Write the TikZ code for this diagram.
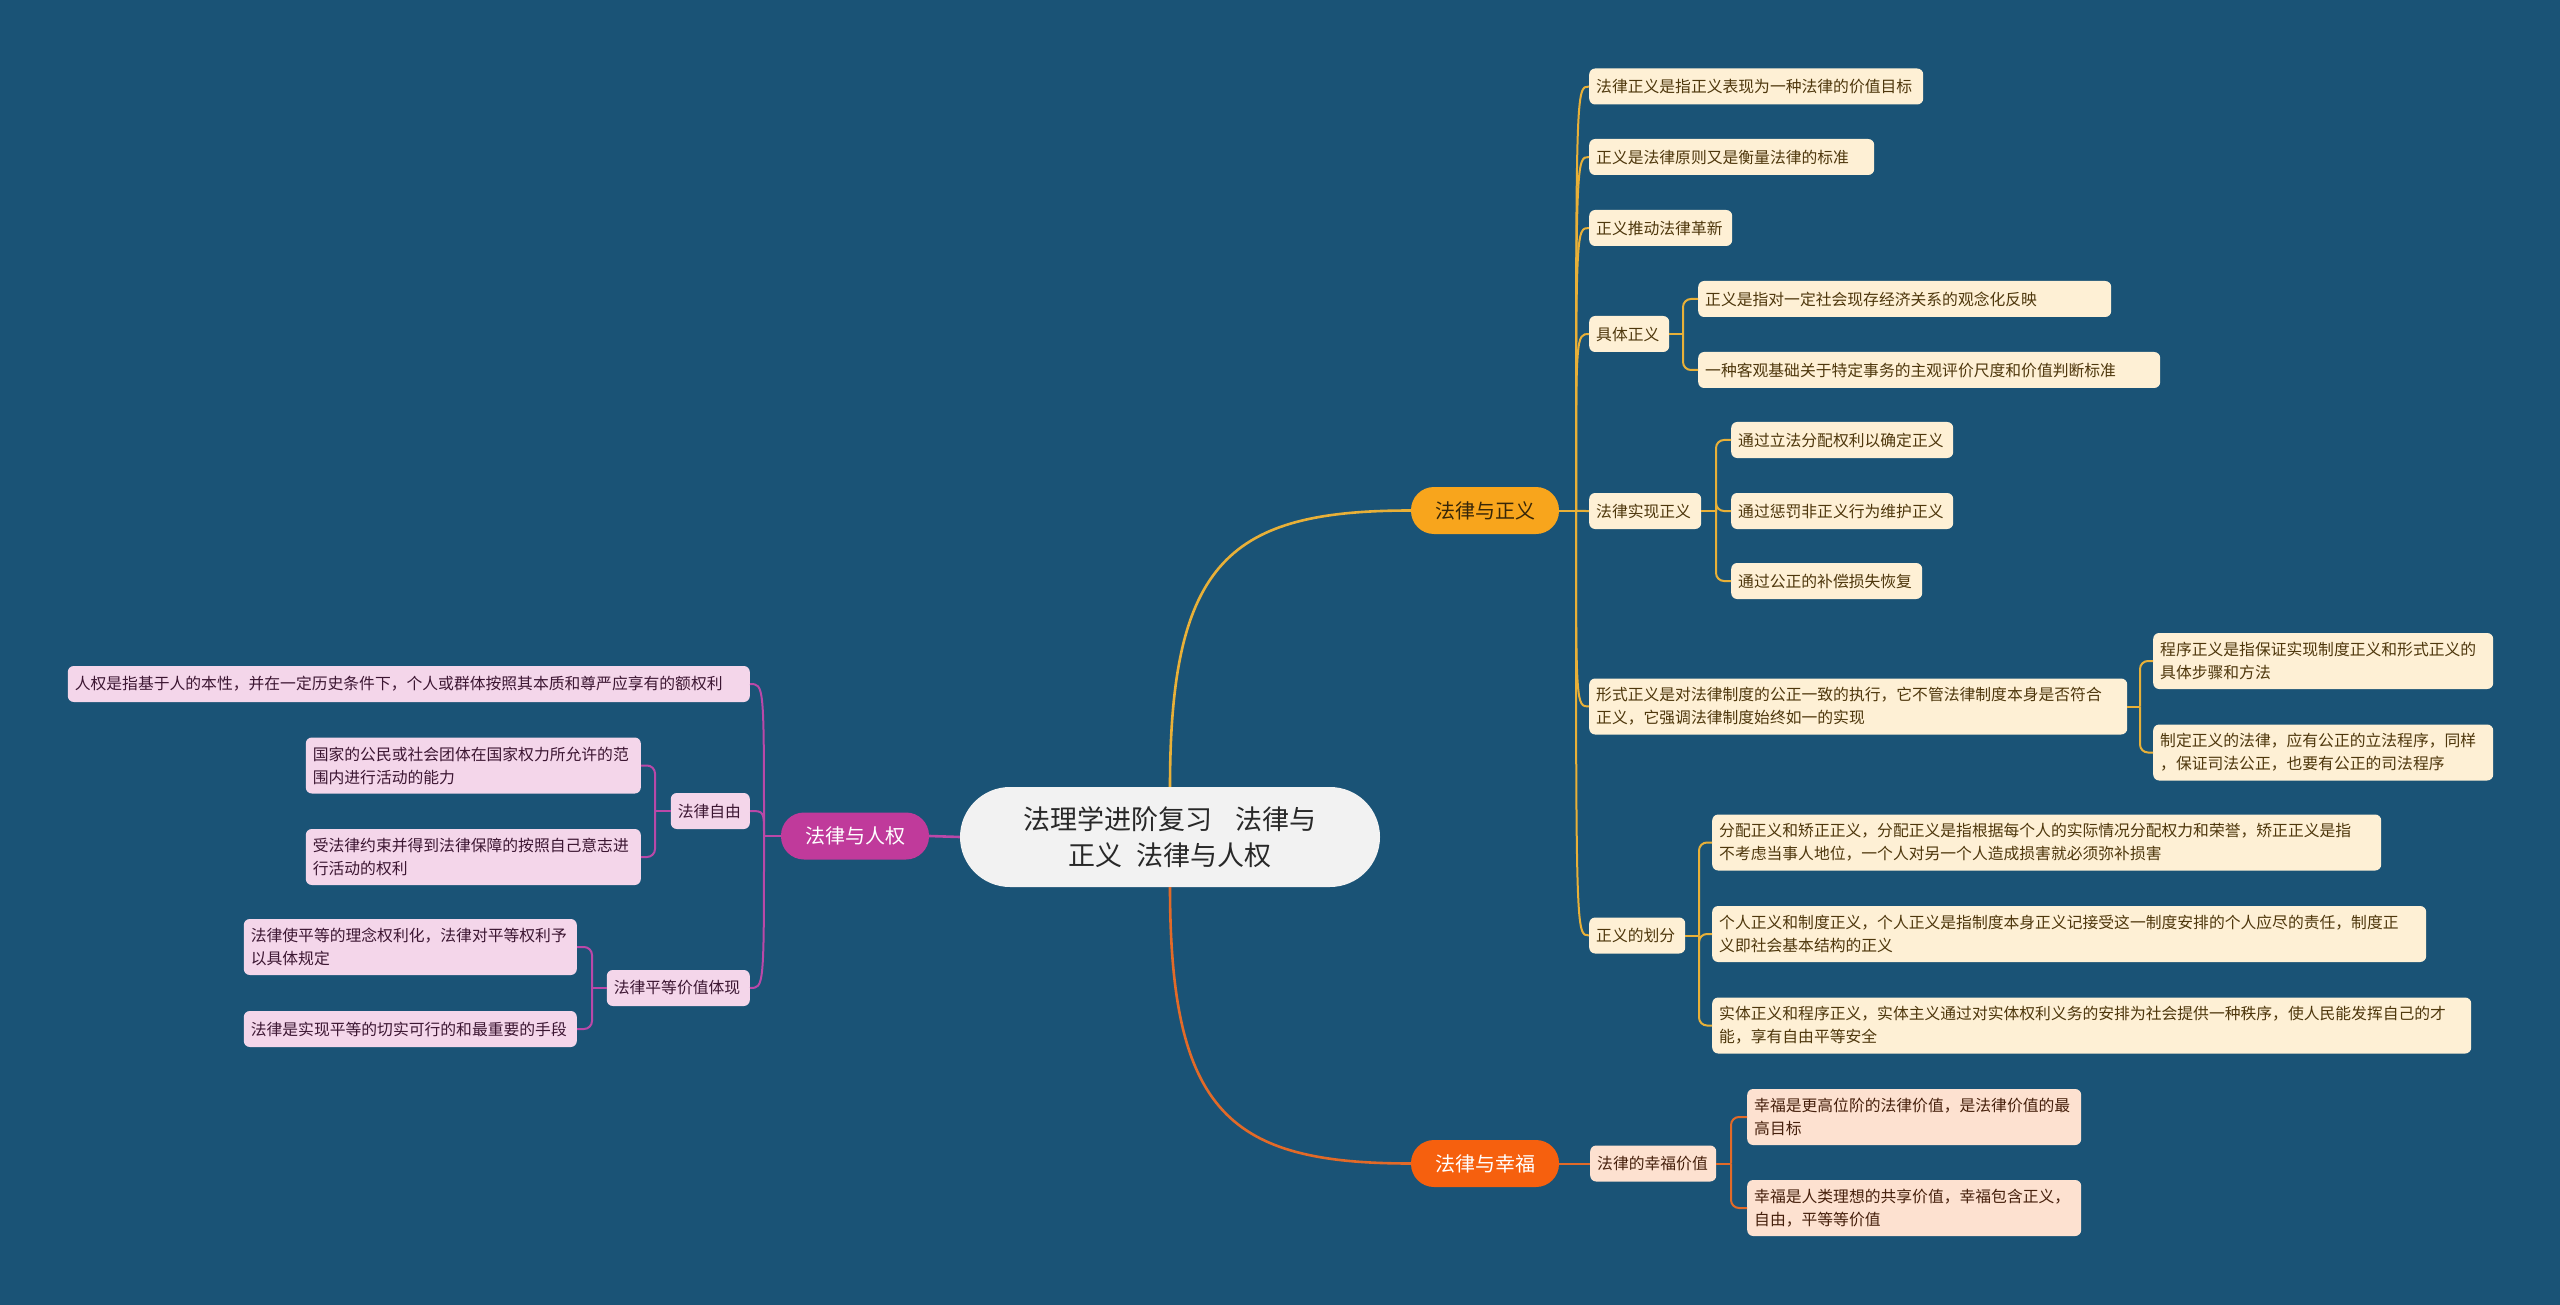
\documentclass[tikz,border=0pt]{standalone}
\usepackage{fontspec}
\setmainfont{Noto Sans CJK SC}
\usetikzlibrary{calc}
\definecolor{bgc}{RGB}{26,83,118}
\definecolor{cfill}{RGB}{242,242,242}
\definecolor{ctext}{RGB}{40,40,40}
\definecolor{jbr}{RGB}{248,165,28}
\definecolor{jbrtext}{RGB}{55,38,8}
\definecolor{jleaffill}{RGB}{254,240,213}
\definecolor{jleaftext}{RGB}{78,55,12}
\definecolor{jlinec}{RGB}{232,176,56}
\definecolor{hbr}{RGB}{246,96,14}
\definecolor{hleaffill}{RGB}{253,225,208}
\definecolor{hleaftext}{RGB}{70,32,12}
\definecolor{hlinec}{RGB}{226,106,40}
\definecolor{rbr}{RGB}{192,58,155}
\definecolor{rleaffill}{RGB}{244,214,234}
\definecolor{rleaftext}{RGB}{60,22,50}
\definecolor{rlinec}{RGB}{186,72,168}
\begin{document}
\begin{tikzpicture}[x=1pt,y=-1pt,
  leafbase/.style={rounded corners=6pt, inner xsep=7pt, inner ysep=2pt, align=left,
    font=\fontsize{15.8}{23}\selectfont},
  jleaf/.style={leafbase, fill=jleaffill, text=jleaftext, anchor=west},
  hleaf/.style={leafbase, fill=hleaffill, text=hleaftext, anchor=west},
  rleaf/.style={leafbase, fill=rleaffill, text=rleaftext, anchor=east},
  onel/.style={minimum height=36pt},
  twol/.style={minimum height=56pt},
  branchbox/.style={rounded corners=23pt, minimum width=148pt, minimum height=47pt,
    inner sep=0pt, font=\fontsize{20}{24}\selectfont},
  jconn/.style={draw=jlinec, line width=2pt},
  hconn/.style={draw=hlinec, line width=2pt},
  rconn/.style={draw=rlinec, line width=2pt},
  mainconn/.style={line width=2.6pt}
]
\fill[bgc] (0,0) rectangle (2560,1305);
\useasboundingbox (0,0) rectangle (2560,1305);

% central
\node[fill=cfill, text=ctext, rounded corners=50pt, minimum width=420pt, minimum height=100pt,
  inner sep=0pt, align=center, font=\fontsize{27}{36.5}\selectfont] (C) at (1170,837)
  {法理学进阶复习\hspace{24pt}法律与\\正义\hspace{14pt}法律与人权};

% branches
\node[branchbox, fill=jbr, text=jbrtext] (J) at (1485,510.5) {法律与正义};
\node[branchbox, fill=hbr, text=white] (H) at (1485,1163.5) {法律与幸福};
\node[branchbox, fill=rbr, text=white] (R) at (855,836) {法律与人权};

% justice leaves
\node[jleaf, onel, text width=320pt] (J1) at (1589,86.5) {法律正义是指正义表现为一种法律的价值目标};
\node[jleaf, onel, text width=271pt] (J2) at (1589,157) {正义是法律原则又是衡量法律的标准};
\node[jleaf, onel, text width=129pt] (J3) at (1589,228) {正义推动法律革新};
\node[jleaf, onel, text width=66pt] (J4) at (1589,334) {具体正义};
\node[jleaf, onel, text width=399pt] (J41) at (1698,299) {正义是指对一定社会现存经济关系的观念化反映};
\node[jleaf, onel, text width=448pt] (J42) at (1698,370) {一种客观基础关于特定事务的主观评价尺度和价值判断标准};
\node[jleaf, onel, text width=98pt] (J5) at (1589,511) {法律实现正义};
\node[jleaf, onel, text width=208pt] (J51) at (1731,440) {通过立法分配权利以确定正义};
\node[jleaf, onel, text width=208pt] (J52) at (1731,511) {通过惩罚非正义行为维护正义};
\node[jleaf, onel, text width=177pt] (J53) at (1731,581) {通过公正的补偿损失恢复};
\node[jleaf, twol, text width=524pt] (J6) at (1589,706.5)
  {形式正义是对法律制度的公正一致的执行，它不管法律制度本身是否符合\\正义，它强调法律制度始终如一的实现};
\node[jleaf, twol, text width=326pt] (J61) at (2153,661)
  {程序正义是指保证实现制度正义和形式正义的\\具体步骤和方法};
\node[jleaf, twol, text width=326pt] (J62) at (2153,752.5)
  {制定正义的法律，应有公正的立法程序，同样\\，保证司法公正，也要有公正的司法程序};
\node[jleaf, onel, text width=82pt] (J7) at (1589,935.5) {正义的划分};
\node[jleaf, twol, text width=655pt] (J71) at (1712,842.5)
  {分配正义和矫正正义，分配正义是指根据每个人的实际情况分配权力和荣誉，矫正正义是指\\不考虑当事人地位，一个人对另一个人造成损害就必须弥补损害};
\node[jleaf, twol, text width=700pt] (J72) at (1712,934)
  {个人正义和制度正义，个人正义是指制度本身正义记接受这一制度安排的个人应尽的责任，制度正\\义即社会基本结构的正义};
\node[jleaf, twol, text width=745pt] (J73) at (1712,1025.5)
  {实体正义和程序正义，实体主义通过对实体权利义务的安排为社会提供一种秩序，使人民能发挥自己的才\\能，享有自由平等安全};

% happiness leaves
\node[hleaf, onel, text width=112pt] (H1) at (1590,1163.5) {法律的幸福价值};
\node[hleaf, twol, text width=320pt] (H11) at (1747,1117)
  {幸福是更高位阶的法律价值，是法律价值的最\\高目标};
\node[hleaf, twol, text width=320pt] (H12) at (1747,1208)
  {幸福是人类理想的共享价值，幸福包含正义，\\自由，平等等价值};

% human rights leaves
\node[rleaf, onel, text width=668pt] (R1) at (750,684) {人权是指基于人的本性，并在一定历史条件下，个人或群体按照其本质和尊严应享有的额权利};
\node[rleaf, onel, text width=65pt] (R2) at (750,811) {法律自由};
\node[rleaf, twol, text width=321pt] (R21) at (641,765.5)
  {国家的公民或社会团体在国家权力所允许的范\\围内进行活动的能力};
\node[rleaf, twol, text width=321pt] (R22) at (641,857)
  {受法律约束并得到法律保障的按照自己意志进\\行活动的权利};
\node[rleaf, onel, text width=129pt] (R3) at (750,988) {法律平等价值体现};
\node[rleaf, twol, text width=319pt] (R31) at (577,947)
  {法律使平等的理念权利化，法律对平等权利予\\以具体规定};
\node[rleaf, onel, text width=319pt] (R32) at (577,1029) {法律是实现平等的切实可行的和最重要的手段};

% ---- connectors ----
\draw[jconn, mainconn] (C.north) .. controls ($(C.north)+(0,-227)$) and ($(J.west)+(-180,0)$) .. (J.west);
\draw[hconn, mainconn] (C.south) .. controls ($(C.south)+(0,227)$) and ($(H.west)+(-180,0)$) .. (H.west);
\draw[rconn, mainconn] (C.west) -- (R.east);

% justice trunk
\coordinate (jt) at (1576,510.5);
\draw[jconn] (J.east) -- (jt);
\foreach \c in {J1,J2,J3,J4,J5,J6,J7}
  \draw[jconn] (jt) .. controls (jt |- \c.west) and (jt |- \c.west) .. (\c.west);

\coordinate (j4t) at (1683,334);
\draw[jconn] (J4.east) -- (j4t);
\foreach \c in {J41,J42} \draw[jconn, rounded corners=8pt] (j4t) |- (\c.west);

\coordinate (j5t) at (1716,511);
\draw[jconn] (J5.east) -- (j5t);
\foreach \c in {J51,J52,J53} \draw[jconn, rounded corners=8pt] (j5t) |- (\c.west);

\coordinate (j6t) at (2140,706.5);
\draw[jconn] (J6.east) -- (j6t);
\foreach \c in {J61,J62} \draw[jconn, rounded corners=8pt] (j6t) |- (\c.west);

\coordinate (j7t) at (1699,935.5);
\draw[jconn] (J7.east) -- (j7t);
\foreach \c in {J71,J72,J73} \draw[jconn, rounded corners=8pt] (j7t) |- (\c.west);

% happiness
\draw[hconn] (H.east) -- (H1.west);
\coordinate (h1t) at (1731,1163.5);
\draw[hconn] (H1.east) -- (h1t);
\foreach \c in {H11,H12} \draw[hconn, rounded corners=8pt] (h1t) |- (\c.west);

% human rights
\coordinate (rt) at (764,836);
\draw[rconn] (R.west) -- (rt);
\foreach \c in {R1,R2,R3}
  \draw[rconn] (rt) .. controls (rt |- \c.east) and (rt |- \c.east) .. (\c.east);

\coordinate (r2t) at (655,811);
\draw[rconn] (R2.west) -- (r2t);
\foreach \c in {R21,R22} \draw[rconn, rounded corners=8pt] (r2t) |- (\c.east);

\coordinate (r3t) at (592,988);
\draw[rconn] (R3.west) -- (r3t);
\foreach \c in {R31,R32} \draw[rconn, rounded corners=8pt] (r3t) |- (\c.east);
\end{tikzpicture}
\end{document}
